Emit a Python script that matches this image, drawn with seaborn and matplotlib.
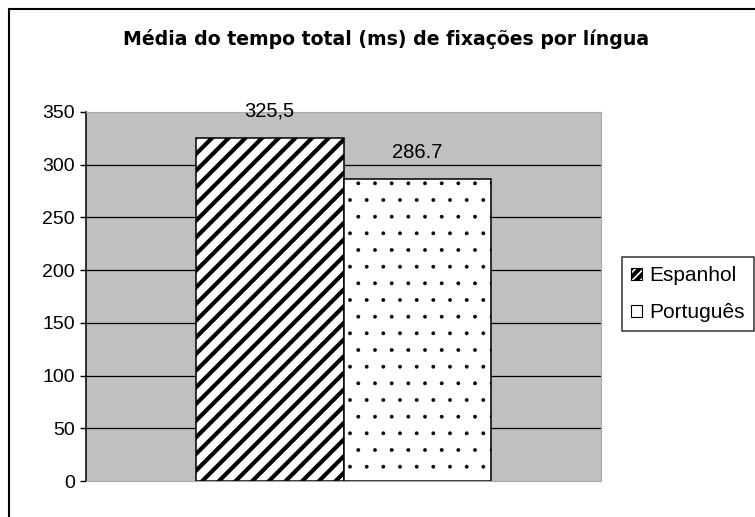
import pandas as pd
import numpy as np
import matplotlib.pyplot as plt
import seaborn as sns
from matplotlib.patches import Patch, Rectangle

title = 'Média do tempo total (ms) de fixações por língua'
linguas = ['Espanhol', 'Português']
valores = [325.5, 286.7]
rotulos = ['325,5', '286.7']
hachuras = ['//', '.']
yticks = [0, 50, 100, 150, 200, 250, 300, 350]

df = pd.DataFrame({'grupo': ['g', 'g'], 'lingua': linguas, 'valor': valores})

sns.set_style('white')
plt.rcParams['font.family'] = ['Liberation Sans', 'DejaVu Sans']
plt.rcParams['hatch.linewidth'] = 3.0
plt.rcParams['text.color'] = 'black'
plt.rcParams['ytick.color'] = 'black'
plt.rcParams['ytick.labelcolor'] = 'black'

fig = plt.figure(figsize=(7.55, 5.17), dpi=100)
ax = fig.add_axes([86/755, 1-481/517, 515/755, 369/517])
ax.set_facecolor('#c0c0c0')

sns.barplot(data=df, x='grupo', y='valor', hue='lingua', palette=['white', 'white'],
            edgecolor='black', linewidth=1.1, width=0.573, legend=False, ax=ax)

for cont, h in zip(ax.containers, hachuras):
    for bar in cont:
        bar.set_hatch(h)
        if h == '.' and hasattr(bar, 'set_hatch_linewidth'):
            bar.set_hatch_linewidth(0.3)

for cont, lab in zip(ax.containers, rotulos):
    bar = cont[0]
    ax.annotate(lab, (bar.get_x() + bar.get_width()/2, bar.get_height()),
                xytext=(0, 19), textcoords='offset points',
                ha='center', va='center', fontsize=14.5, color='black')

ax.set_xlim(-0.5, 0.5)
ax.set_ylim(0, 350)
ax.set_yticks(yticks)
ax.set_yticklabels([str(v) for v in yticks], fontsize=14, color='black')
ax.set_xticks([])
ax.set_xlabel('')
ax.set_ylabel('')
for v in yticks[1:-1]:
    ax.axhline(v, color='black', lw=0.9, zorder=0.5)
ax.tick_params(axis='y', left=True, length=4, width=1, color='black', labelcolor='black', pad=4)
ax.spines['left'].set_color('black')
ax.spines['left'].set_linewidth(1.1)
for s in ['top', 'right', 'bottom']:
    ax.spines[s].set_color('#a8a8a8')
    ax.spines[s].set_linewidth(0.8)

fig.text(386.5/755, 1-45/517, title, ha='center', va='baseline', color='black',
         fontsize=13.6, fontweight='bold', family=['DejaVu Sans'])

hand_hatch = ['////', '']
handles = [Patch(facecolor='white', edgecolor='black', hatch=h, lw=0.8) for h in hand_hatch]
leg = fig.legend(handles, linguas, loc='upper left', bbox_to_anchor=(622/755, 1-257/517),
                 fontsize=15, frameon=True, fancybox=False, handlelength=0.5, handleheight=0.5,
                 handletextpad=0.35, labelspacing=0.85, borderpad=0.45, borderaxespad=0,
                 labelcolor='black')
leg.get_frame().set_edgecolor('black')
leg.get_frame().set_linewidth(1.1)

fig.add_artist(Rectangle((9/755, -0.1), 2, 1.1 - 9/517, transform=fig.transFigure,
                         fill=False, edgecolor='black', lw=1.5))

fig.savefig('out.png', dpi=100)
